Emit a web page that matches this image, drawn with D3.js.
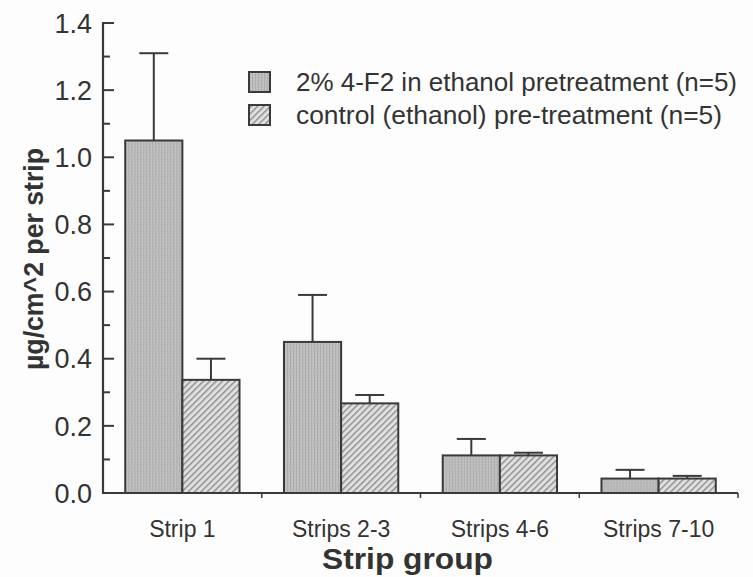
<!DOCTYPE html>
<html>
<head>
<meta charset="utf-8">
<script src="https://cdn.jsdelivr.net/npm/d3@7"></script>
<style>
  html, body { margin: 0; padding: 0; background: #fdfdfd; }
  svg { display: block; }
</style>
</head>
<body>
<div id="chart"></div>
<script>
// Strip groups along the x axis
const categories = ["Strip 1", "Strips 2-3", "Strips 4-6", "Strips 7-10"];
// Series names (legend text)
const seriesNames = [
  "2% 4-F2 in ethanol pretreatment (n=5)",
  "control (ethanol) pre-treatment (n=5)"
];
// Mean amount per strip (µg/cm^2)
const treatedMeans = [1.05, 0.45, 0.112, 0.043];
const controlMeans = [0.337, 0.267, 0.112, 0.043];
// Upper error (mean + error) values
const treatedUpper = [1.31, 0.59, 0.161, 0.069];
const controlUpper = [0.40, 0.292, 0.12, 0.051];
// Y tick values
const yMajorTicks = [0, 0.2, 0.4, 0.6, 0.8, 1.0, 1.2, 1.4];
const yMinorTicks = [0.1, 0.3, 0.5, 0.7, 0.9, 1.1, 1.3];

const W = 753, H = 577;
const ink = "#3a3a3a";
const textCol = "#333";
const font = "Liberation Sans, Arial, sans-serif";

const svg = d3.select("#chart").append("svg")
  .attr("width", W).attr("height", H);

// Fill patterns: fine vertical stipple and diagonal hatch
const defs = svg.append("defs");
const stip = defs.append("pattern").attr("id", "stipple")
  .attr("patternUnits", "userSpaceOnUse").attr("width", 3).attr("height", 3);
stip.append("rect").attr("width", 3).attr("height", 3).attr("fill", "#bdbdbd");
stip.append("rect").attr("x", 0).attr("width", 1).attr("height", 3).attr("fill", "#adadad");
stip.append("rect").attr("x", 2).attr("y", 1).attr("width", 1).attr("height", 1).attr("fill", "#c9c9c9");

const hatch = defs.append("pattern").attr("id", "hatch")
  .attr("patternUnits", "userSpaceOnUse").attr("width", 4.5).attr("height", 4.5)
  .attr("patternTransform", "rotate(45)");
hatch.append("rect").attr("width", 4.5).attr("height", 4.5).attr("fill", "#e0e0e0");
hatch.append("rect").attr("x", 0).attr("width", 1.5).attr("height", 4.5).attr("fill", "#939393");

const fills = ["url(#stipple)", "url(#hatch)"];

// Scales
const x0 = d3.scaleBand().domain(categories).range([103, 738])
  .paddingInner(0.28).paddingOuter(0.14);
const x1 = d3.scaleBand().domain([0, 1]).range([0, x0.bandwidth()]);
const y = d3.scaleLinear().domain([0, 1.4]).range([493, 23]);

const rows = categories.map((c, i) => ({
  cat: c,
  vals: [
    { s: 0, v: treatedMeans[i], up: treatedUpper[i] },
    { s: 1, v: controlMeans[i], up: controlUpper[i] }
  ]
}));

// Error bars (upper only), drawn under the bars
const groups = svg.append("g").selectAll("g").data(rows).join("g")
  .attr("transform", d => `translate(${x0(d.cat)},0)`);

groups.selectAll("g.err").data(d => d.vals).join("g").attr("class", "err")
  .each(function (d) {
    const g = d3.select(this);
    const cx = x1(d.s) + x1.bandwidth() / 2;
    g.append("line").attr("x1", cx).attr("x2", cx)
      .attr("y1", y(d.v)).attr("y2", y(d.up))
      .attr("stroke", ink).attr("stroke-width", 2);
    g.append("line").attr("x1", cx - 14.5).attr("x2", cx + 14.5)
      .attr("y1", y(d.up)).attr("y2", y(d.up))
      .attr("stroke", ink).attr("stroke-width", 2);
  });

groups.selectAll("rect.bar").data(d => d.vals).join("rect").attr("class", "bar")
  .attr("x", d => x1(d.s))
  .attr("y", d => y(d.v))
  .attr("width", x1.bandwidth())
  .attr("height", d => y(0) - y(d.v))
  .attr("fill", d => fills[d.s])
  .attr("stroke", ink).attr("stroke-width", 2);

// Y axis: major ticks inward, minor ticks shorter
const yAxis = svg.append("g").attr("transform", "translate(103,0)");
yAxis.append("line").attr("x1", 0).attr("x2", 0)
  .attr("y1", y(1.4)).attr("y2", y(0))
  .attr("stroke", ink).attr("stroke-width", 2.2);
yAxis.selectAll("line.maj").data(yMajorTicks).join("line").attr("class", "maj")
  .attr("x1", -1).attr("x2", 11).attr("y1", d => y(d)).attr("y2", d => y(d))
  .attr("stroke", ink).attr("stroke-width", 2);
yAxis.selectAll("line.min").data(yMinorTicks).join("line").attr("class", "min")
  .attr("x1", 0).attr("x2", 7).attr("y1", d => y(d)).attr("y2", d => y(d))
  .attr("stroke", ink).attr("stroke-width", 2);
yAxis.selectAll("text").data(yMajorTicks).join("text")
  .attr("x", -11).attr("y", d => y(d)).attr("dy", "0.36em")
  .attr("text-anchor", "end")
  .attr("font-family", font)
  .attr("font-size", 27).attr("fill", textCol)
  .text(d => d.toFixed(1));

// X axis line with short ticks at group boundaries
const xAxis = svg.append("g");
xAxis.append("line").attr("x1", 102).attr("x2", 738)
  .attr("y1", y(0)).attr("y2", y(0))
  .attr("stroke", ink).attr("stroke-width", 2.2);
const bounds = d3.range(1, categories.length + 1)
  .map(i => x0.range()[0] + i * x0.step());
xAxis.selectAll("line.tk").data(bounds).join("line").attr("class", "tk")
  .attr("x1", d => d).attr("x2", d => d)
  .attr("y1", y(0)).attr("y2", y(0) + 5)
  .attr("stroke", ink).attr("stroke-width", 1.5);
xAxis.selectAll("text").data(categories).join("text")
  .attr("x", d => x0(d) + x0.bandwidth() / 2).attr("y", 537)
  .attr("text-anchor", "middle")
  .attr("font-family", font)
  .attr("font-size", 23).attr("fill", textCol)
  .text(d => d);

// Axis titles
svg.append("text")
  .attr("x", 407.5).attr("y", 569).attr("text-anchor", "middle")
  .attr("font-family", font)
  .attr("font-weight", "bold").attr("font-size", 30).attr("fill", textCol)
  .attr("textLength", 171).attr("lengthAdjust", "spacingAndGlyphs")
  .text("Strip group");
svg.append("text")
  .attr("transform", "translate(43,259) rotate(-90)")
  .attr("text-anchor", "middle")
  .attr("font-family", font)
  .attr("font-weight", "bold").attr("font-size", 27).attr("fill", textCol)
  .attr("textLength", 222).attr("lengthAdjust", "spacingAndGlyphs")
  .text("µg/cm^2 per strip");

// Legend
const legend = svg.append("g");
seriesNames.forEach((name, i) => {
  const ly = 72 + i * 33;
  legend.append("rect").attr("x", 249).attr("y", ly)
    .attr("width", 21).attr("height", 20)
    .attr("fill", fills[i]).attr("stroke", ink).attr("stroke-width", 2);
  legend.append("text").attr("x", 296).attr("y", ly + 19)
    .attr("font-family", font)
    .attr("font-size", 26).attr("fill", textCol)
    .attr("textLength", i === 0 ? 441 : 426).attr("lengthAdjust", "spacingAndGlyphs")
    .text(name);
});
</script>
</body>
</html>
